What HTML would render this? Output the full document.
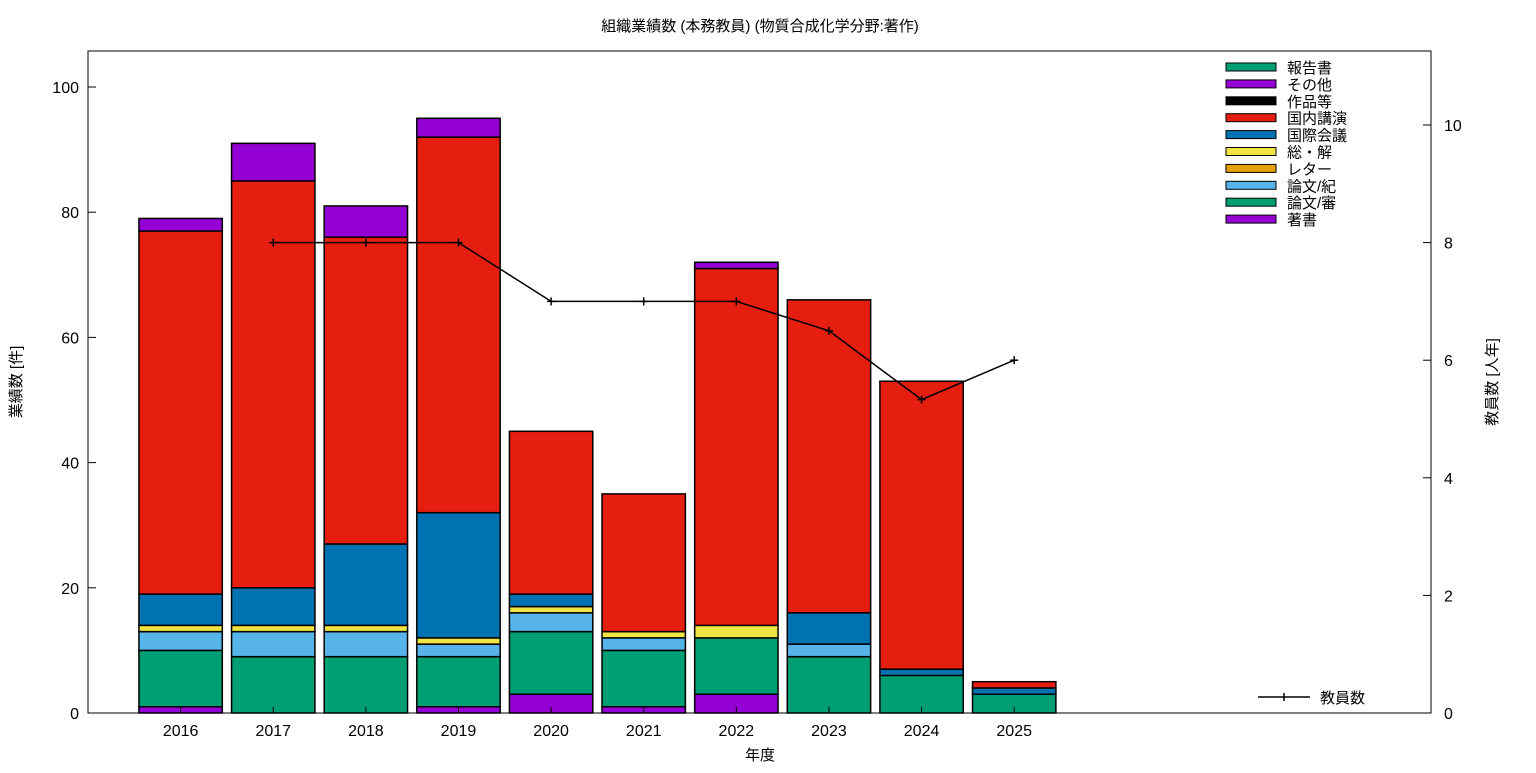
<!DOCTYPE html>
<html><head><meta charset="utf-8"><style>
body{margin:0;background:#fff}
svg text{font-family:"Liberation Sans","Noto Sans CJK JP",sans-serif;fill:#000}
</style></head><body>
<svg id="c" width="1536" height="768">
<text x="760" y="31" font-size="15" text-anchor="middle">組織業績数 (本務教員) (物質合成化学分野:著作)</text>
<text x="760" y="760" font-size="15" text-anchor="middle">年度</text>
<text transform="translate(21,382) rotate(-90)" font-size="15" text-anchor="middle">業績数 [件]</text>
<text transform="translate(1497,382) rotate(-90)" font-size="15" text-anchor="middle">教員数 [人年]</text>
<g id="bars"></g><g id="axes"></g><g id="line"></g><g id="legend"></g>
</svg>
<script>
const years=["2016","2017","2018","2019","2020","2021","2022","2023","2024","2025"];
const chosho=[1,0,0,1,3,1,3,0,0,0];
const ronbunShin=[9,9,9,8,10,9,9,9,6,3];
const ronbunKi=[3,4,4,2,3,2,0,2,0,0];
const letter=[0,0,0,0,0,0,0,0,0,0];
const sokai=[1,1,1,1,1,1,2,0,0,0];
const kokusai=[5,6,13,20,2,0,0,5,1,1];
const kokunai=[58,65,49,60,26,22,57,50,46,1];
const sakuhin=[0,0,0,0,0,0,0,0,0,0];
const sonota=[2,6,5,3,0,0,1,0,0,0];
const hokoku=[0,0,0,0,0,0,0,0,0,0];
const staffYears=["2017","2018","2019","2020","2021","2022","2023","2024","2025"];
const staff=[8,8,8,7,7,7,6.5,5.33,6];
const yTicks=[0,20,40,60,80,100];
const y2Ticks=[0,2,4,6,8,10];
const series=[
 ["著書",chosho,"#9400d3"],["論文/審",ronbunShin,"#009e73"],["論文/紀",ronbunKi,"#56b4e9"],
 ["レター",letter,"#e69f00"],["総・解",sokai,"#f0e442"],["国際会議",kokusai,"#0072b2"],
 ["国内講演",kokunai,"#e51e10"],["作品等",sakuhin,"#000000"],["その他",sonota,"#9400d3"],["報告書",hokoku,"#009e73"]];
const L=88,R=1431,T=51,B=713;
const xs=i=>L+(i+1)/14.5*(R-L);
const ys=v=>B-v*(B-87)/100;
const y2=v=>B-v*(B-125)/10;
const NS="http://www.w3.org/2000/svg";
function mk(tag,attrs,parent){const e=document.createElementNS(NS,tag);for(const k in attrs)e.setAttribute(k,attrs[k]);parent.appendChild(e);return e;}
const gb=document.getElementById('bars'),ga=document.getElementById('axes'),gl=document.getElementById('line'),gg=document.getElementById('legend');
const bw=(xs(1)-xs(0))*0.9;
years.forEach((y,i)=>{let acc=0;series.forEach(s=>{const v=s[1][i];if(v>0){
 const r=mk('rect',{x:xs(i)-bw/2,y:ys(acc+v),width:bw,height:ys(acc)-ys(acc+v),fill:s[2],stroke:'#000','stroke-width':1.5},gb);
 
 }acc+=v;});
 const t=mk('text',{x:xs(i),y:736,'font-size':16,'text-anchor':'middle'},ga);t.textContent=y;
 
 
 mk('line',{x1:xs(i),x2:xs(i),y1:B,y2:B-6,stroke:'#000'},ga);});
mk('rect',{x:L,y:T,width:R-L,height:B-T,fill:'none',stroke:'#000','stroke-width':1},ga);
yTicks.forEach(v=>{const t=mk('text',{x:79,y:ys(v)+6,'font-size':16,'text-anchor':'end'},ga);t.textContent=v;
 
 
 mk('line',{x1:L,x2:L+8,y1:ys(v),y2:ys(v),stroke:'#000'},ga);});
y2Ticks.forEach(v=>{const t=mk('text',{x:1444,y:y2(v)+6,'font-size':16},ga);t.textContent=v;
 
 
 mk('line',{x1:R-8,x2:R,y1:y2(v),y2:y2(v),stroke:'#000'},ga);});
const pts=staffYears.map((y,k)=>[xs(years.indexOf(y)),y2(staff[k])]);
const pl=mk('polyline',{points:pts.map(p=>p.join(',')).join(' '),fill:'none',stroke:'#000','stroke-width':1.5},gl);


pts.forEach(p=>{mk('line',{x1:p[0]-4,x2:p[0]+4,y1:p[1],y2:p[1],stroke:'#000','stroke-width':1.5},gl);mk('line',{x1:p[0],x2:p[0],y1:p[1]-4,y2:p[1]+4,stroke:'#000','stroke-width':1.5},gl);});
series.slice().reverse().forEach((s,k)=>{const yy=67+k*16.9;
 const r=mk('rect',{x:1226,y:yy-4,width:50,height:8,fill:s[2],stroke:'#000'},gg);
 
 
 const t=mk('text',{x:1287,y:yy+6,'font-size':15},gg);t.textContent=s[0];
 
 });
mk('line',{x1:1258,x2:1310,y1:697,y2:697,stroke:'#000','stroke-width':1.5},gg);
mk('line',{x1:1284,x2:1284,y1:693,y2:701,stroke:'#000','stroke-width':1.5},gg);
const lt=mk('text',{x:1320,y:703,'font-size':15},gg);lt.textContent='教員数';


</script>
</body></html>
